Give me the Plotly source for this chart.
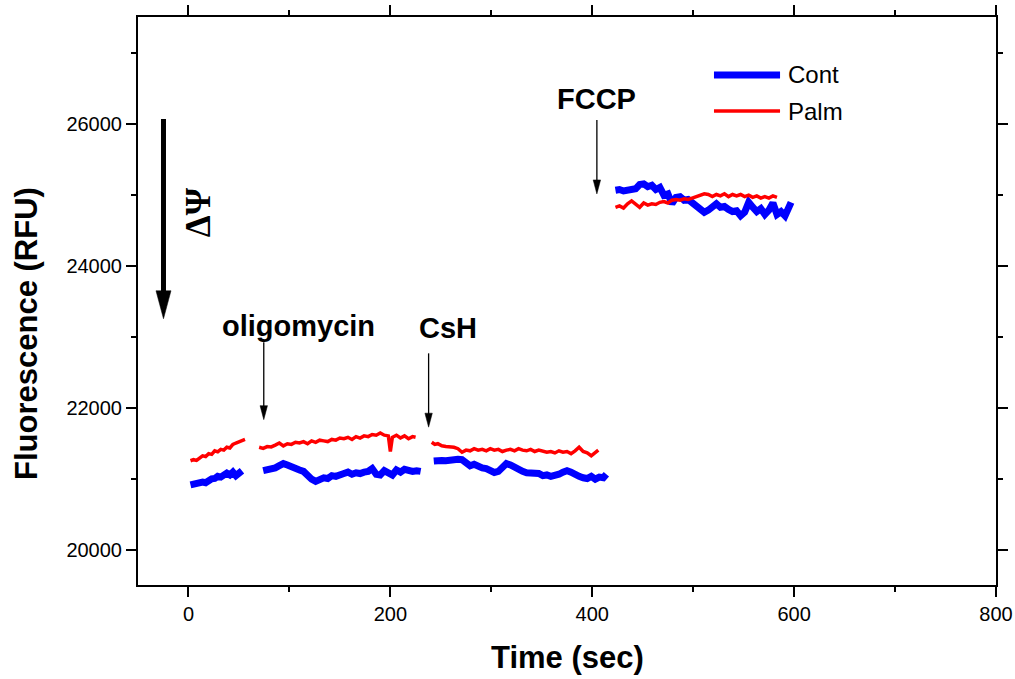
import plotly.graph_objects as go

# ---- Recorded segments: time (s) and fluorescence (RFU) ----
cont_t1 = list(range(2, 54, 3))
cont_v1 = [20910, 20925, 20920, 20945, 20950, 20940, 20975, 20995, 21000,
           21030, 21020, 21060, 21075, 21050, 21090, 21040, 21080, 21110]
cont_t2 = list(range(74, 231, 4))
cont_v2 = [21110, 21120, 21130, 21150, 21180, 21210, 21190, 21160, 21150, 21120,
           21100, 21040, 20990, 20960, 20990, 21010, 21000, 21040, 21030, 21060,
           21070, 21090, 21060, 21080, 21070, 21090, 21100, 21140, 21060, 21050,
           21110, 21080, 21050, 21120, 21090, 21130, 21110, 21100, 21110, 21100]
cont_t3 = list(range(243, 412, 4)) + [414]
cont_v3 = [21245, 21260, 21255, 21250, 21265, 21260, 21270, 21265, 21230, 21180,
           21200, 21170, 21150, 21140, 21120, 21085, 21100, 21170, 21210, 21190,
           21150, 21120, 21100, 21080, 21075, 21060, 21070, 21040, 21050, 21030,
           21040, 21060, 21090, 21110, 21090, 21050, 21030, 21010, 21000, 21030,
           20990, 21020, 21010, 21060]
cont_t4 = list(range(423, 592, 4)) + [594, 597]
cont_v4 = [25060, 25070, 25050, 25060, 25090, 25080, 25140, 25150, 25110, 25130,
           25070, 25100, 24990, 25010, 24870, 24960, 24970, 24920, 24930, 24880,
           24830, 24800, 24750, 24780, 24840, 24870, 24820, 24830, 24790, 24760,
           24770, 24700, 24750, 24890, 24820, 24760, 24800, 24720, 24780, 24880,
           24720, 24760, 24700, 24800, 24890]

palm_t1 = list(range(2, 57, 3))
palm_v1 = [21250, 21265, 21255, 21290, 21320, 21310, 21350, 21340, 21390, 21375,
           21410, 21400, 21440, 21430, 21480, 21500, 21520, 21540, 21550]
palm_t2 = list(range(70, 199, 4)) + [200, 202, 206, 210, 214, 218, 222, 225]
palm_v2 = [21440, 21425, 21450, 21445, 21470, 21500, 21460, 21490, 21480, 21510,
           21500, 21520, 21490, 21530, 21510, 21540, 21530, 21520, 21550, 21540,
           21570, 21560, 21580, 21550, 21590, 21570, 21600, 21590, 21620, 21610,
           21640, 21610, 21600, 21380, 21580, 21610, 21570, 21600, 21560, 21590,
           21580]
palm_t3 = [241, 244] + list(range(247, 404, 4)) + [406]
palm_v3 = [21510, 21480, 21490, 21460, 21450, 21445, 21440, 21420, 21370, 21400,
           21390, 21420, 21400, 21410, 21390, 21420, 21400, 21410, 21380, 21400,
           21410, 21390, 21420, 21400, 21390, 21410, 21380, 21400, 21390, 21370,
           21380, 21360, 21390, 21370, 21380, 21350, 21390, 21440, 21380, 21360,
           21320, 21370, 21400]
palm_t4 = list(range(423, 584, 4))
palm_v4 = [24820, 24840, 24810, 24870, 24910, 24860, 24820, 24880, 24850, 24870,
           24860, 24890, 24900, 24880, 24920, 24930, 24920, 24940, 24930, 24950,
           24970, 24990, 25010, 25000, 24970, 25000, 24980, 25010, 24970, 25000,
           24980, 25000, 24970, 24990, 24960, 24980, 24950, 24970, 24950, 24980,
           24960]

series_names = ["Cont", "Palm"]
series_colors = ["#0000ff", "#ff0000"]
series_widths = [7, 3.5]

x_ticks = [0, 200, 400, 600, 800]
y_ticks = [20000, 22000, 24000, 26000]
X_RANGE = [-50, 800]
Y_RANGE = [19500, 27500]

# Injection markers: label, time of addition
injections = [("oligomycin", 74.6), ("CsH", 237.9), ("FCCP", 404.6)]

FONT = "Liberation Sans, Arial, sans-serif"
SERIF = "Liberation Serif, Times New Roman, serif"

W, H = 1015, 679
M = dict(l=138, r=19, t=17, b=94)
PLOT_H = H - M["t"] - M["b"]
Y_PER_PX = (Y_RANGE[1] - Y_RANGE[0]) / PLOT_H


def join_segments(*segs):
    """Concatenate (t, v) segments, leaving a gap between each."""
    xs, ys = [], []
    for t, v in segs:
        if xs:
            xs.append(None)
            ys.append(None)
        xs.extend(t)
        ys.extend(v)
    return xs, ys


cont_x, cont_y = join_segments((cont_t1, cont_v1), (cont_t2, cont_v2),
                               (cont_t3, cont_v3), (cont_t4, cont_v4))
palm_x, palm_y = join_segments((palm_t1, palm_v1), (palm_t2, palm_v2),
                               (palm_t3, palm_v3), (palm_t4, palm_v4))

fig = go.Figure()
for name, xs, ys, col, lw in zip(series_names, [cont_x, palm_x], [cont_y, palm_y],
                                 series_colors, series_widths):
    fig.add_trace(go.Scatter(x=xs, y=ys, mode="lines", name=name,
                             line=dict(color=col, width=lw),
                             connectgaps=False, showlegend=False))

shapes = []
annotations = []


def add_arrow(x, y_top, y_tip, lw, head_len, head_half):
    """Vertical downward arrow: a shaft in data units plus a pixel-sized head."""
    shaft_end = y_tip + 0.6 * head_len * Y_PER_PX
    shapes.append(dict(type="line", xref="x", yref="y", x0=x, x1=x,
                       y0=y_top, y1=shaft_end,
                       line=dict(color="black", width=lw)))
    shapes.append(dict(type="path", xref="x", yref="y",
                       xsizemode="pixel", ysizemode="pixel",
                       xanchor=x, yanchor=y_tip,
                       path=f"M {-head_half},{head_len} L {head_half},{head_len} L 0,0 Z",
                       fillcolor="black", line=dict(color="black", width=0.5)))


# Membrane potential direction arrow
add_arrow(-24.75, 26065, 23250, 5, 28, 7.5)
annotations.append(dict(x=10, y=24745, xref="x", yref="y", text="<b>ΔΨ</b>",
                        textangle=-90, showarrow=False,
                        font=dict(family=SERIF, size=35, color="black")))

# Injection arrows and labels
label_pos = {"oligomycin": (109, 23150), "CsH": (257.5, 23120), "FCCP": (404, 26345)}
arrow_span = {"oligomycin": (22918, 21829), "CsH": (22763, 21723), "FCCP": (26048, 25008)}
for label, t in injections:
    top, tip = arrow_span[label]
    add_arrow(t, top, tip, 1.3, 14, 3.7)
    lx, ly = label_pos[label]
    annotations.append(dict(x=lx, y=ly, xref="x", yref="y", text=f"<b>{label}</b>",
                            showarrow=False,
                            font=dict(family=FONT, size=29, color="black")))

# Legend drawn inside the plot area
leg_x0, leg_x1, leg_tx = 0.6713, 0.7483, 0.7552
for name, col, lw, ly in zip(series_names, series_colors, series_widths, [0.8979, 0.8345]):
    shapes.append(dict(type="line", xref="paper", yref="paper",
                       x0=leg_x0, x1=leg_x1, y0=ly, y1=ly,
                       line=dict(color=col, width=lw)))
    annotations.append(dict(x=leg_tx, y=ly, xref="paper", yref="paper", text=name,
                            xanchor="left", yanchor="middle", showarrow=False,
                            font=dict(family=FONT, size=24, color="black")))

# Axis titles
annotations.append(dict(x=0.5, y=-0.1268, xref="paper", yref="paper",
                        text="<b>Time (sec)</b>", showarrow=False,
                        xanchor="center", yanchor="middle",
                        font=dict(family=FONT, size=31, color="black")))
annotations.append(dict(x=-0.1294, y=0.4437, xref="paper", yref="paper",
                        text="<b>Fluorescence (RFU)</b>", showarrow=False,
                        textangle=-90, xanchor="center", yanchor="middle",
                        font=dict(family=FONT, size=31, color="black")))

axis_common = dict(showline=True, linecolor="black", linewidth=2, mirror="ticks",
                   ticks="outside", ticklen=10, tickwidth=1.5, tickcolor="black",
                   showgrid=False, zeroline=False, automargin=False,
                   tickfont=dict(family=FONT, size=20, color="black"))

fig.update_xaxes(range=X_RANGE, tickvals=x_ticks, ticktext=[str(v) for v in x_ticks],
                 minor=dict(dtick=100, tick0=0, ticks="outside", ticklen=5,
                            tickwidth=1.5, tickcolor="black"),
                 **axis_common)
fig.update_yaxes(range=Y_RANGE, tickvals=y_ticks, ticktext=[str(v) for v in y_ticks],
                 minor=dict(dtick=1000, tick0=0, ticks="outside", ticklen=5,
                            tickwidth=1.5, tickcolor="black"),
                 **axis_common)

fig.update_layout(width=W, height=H, margin=dict(**M, pad=0),
                  paper_bgcolor="white", plot_bgcolor="white",
                  shapes=shapes, annotations=annotations, showlegend=False)

fig.write_html("out.html")
